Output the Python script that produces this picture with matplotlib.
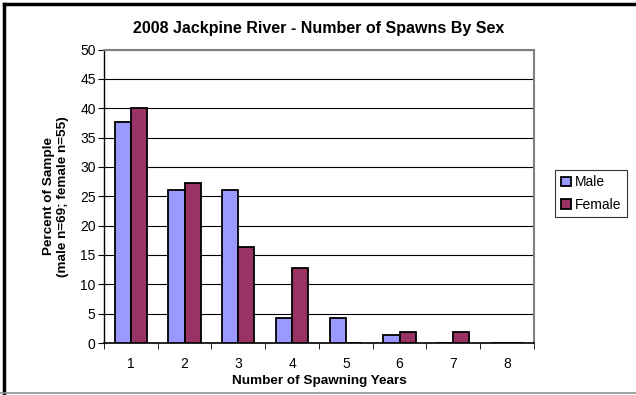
import matplotlib.pyplot as plt
import numpy as np

# spawning years and percent of sample by sex
years = ["1", "2", "3", "4", "5", "6", "7", "8"]
male = [37.7, 26.1, 26.1, 4.3, 4.3, 1.4, 0, 0]
female = [40.0, 27.3, 16.4, 12.7, 0, 1.8, 1.8, 0]

plt.rcParams['font.family'] = ['Liberation Sans', 'DejaVu Sans']

fig = plt.figure(figsize=(6.36, 3.95), dpi=100)
ax = fig.add_axes([0.1635, 0.1316, 0.676, 0.743])

x = np.arange(len(years))
w = 0.3
ax.bar(x - w / 2, male, w, color='#9999FF', edgecolor='black', linewidth=1.3, label='Male', zorder=3)
ax.bar(x + w / 2, female, w, color='#993366', edgecolor='black', linewidth=1.3, label='Female', zorder=3)

ax.set_xlim(-0.5, len(years) - 0.5)
ax.set_ylim(0, 50)
ax.set_yticks(np.arange(0, 51, 5))
ax.set_xticks(x)
ax.set_xticklabels(years)
ax.set_xticks(np.arange(-0.5, len(years), 1), minor=True)
ax.tick_params(axis='x', which='major', length=0, pad=10, labelsize=10)
ax.tick_params(axis='x', which='minor', length=4, direction='out')
ax.tick_params(axis='y', length=4, direction='out', labelsize=10, pad=2)
ax.yaxis.grid(True, color='black', linewidth=0.8, zorder=0)
ax.set_axisbelow(True)

for s in ['top', 'right']:
    ax.spines[s].set_color('#808080')
    ax.spines[s].set_linewidth(1.5)
ax.spines['bottom'].set_linewidth(1.2)
ax.spines['left'].set_linewidth(1.0)

ax.set_title('2008 Jackpine River - Number of Spawns By Sex', fontsize=11.5, fontweight='bold', pad=12)
ax.set_xlabel('Number of Spawning Years', fontsize=9.7, fontweight='bold', labelpad=3)
ax.set_ylabel('Percent of Sample\n(male n=69; female n=55)', fontsize=9.7, fontweight='bold', labelpad=8)

leg = fig.legend(loc='upper left', bbox_to_anchor=(0.873, 0.57), fontsize=10,
                 frameon=True, fancybox=False, edgecolor='black', handlelength=0.7,
                 handleheight=0.7, handletextpad=0.3, borderpad=0.4, labelspacing=0.6,
                 borderaxespad=0)
leg.get_frame().set_linewidth(0.8)

# chart area border
fig.add_artist(plt.Line2D([0.006, 1.0], [0.990, 0.990], color='black', linewidth=2.5, transform=fig.transFigure))
fig.add_artist(plt.Line2D([0.007, 0.007], [0.0, 0.990], color='black', linewidth=2.5, transform=fig.transFigure))
fig.add_artist(plt.Line2D([0.0, 1.0], [0.006, 0.006], color='#909090', linewidth=1.2, transform=fig.transFigure))

fig.savefig('out.png', dpi=100)
